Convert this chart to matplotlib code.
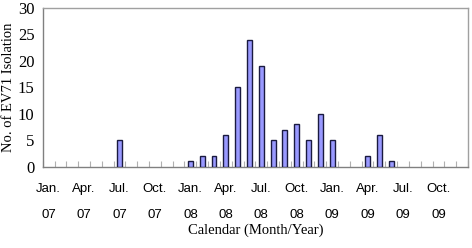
import matplotlib
matplotlib.use("Agg")
import matplotlib.pyplot as plt
import numpy as np

months = [f"{m} {y}" for y in ["07", "08", "09"] for m in
          ["Jan", "Feb", "Mar", "Apr", "May", "Jun", "Jul", "Aug", "Sep", "Oct", "Nov", "Dec"]]
counts = [0, 0, 0, 0, 0, 0, 5, 0, 0, 0, 0, 0,
          1, 2, 2, 6, 15, 24, 19, 5, 7, 8, 5, 10,
          5, 0, 0, 2, 6, 1, 0, 0, 0, 0, 0, 0]
tick_labels = ["Jan.\n07", "Apr.\n07", "Jul.\n07", "Oct.\n07",
               "Jan.\n08", "Apr.\n08", "Jul.\n08", "Oct.\n08",
               "Jan.\n09", "Apr.\n09", "Jul.\n09", "Oct.\n09"]
yticks = [0, 5, 10, 15, 20, 25, 30]

fig = plt.figure(figsize=(4.72, 2.48), dpi=100)
ax = fig.add_axes([0.0905, 0.328, 0.9010, 0.640])

x = np.arange(len(months)) + 0.5
vals = np.array(counts)
mask = vals > 0
ax.bar(x[mask], vals[mask], width=0.42, color="#9999ff", edgecolor="#1a1a40", linewidth=1.0, zorder=3)

ax.set_xlim(0, len(months))
ax.set_ylim(0, 30)
ax.set_yticks(yticks)
ax.set_yticklabels([str(v) for v in yticks], family="Liberation Serif", fontsize=12)
ax.tick_params(axis="y", length=0, pad=6)

ax.set_xticks(x[::3])
ax.set_xticklabels(tick_labels, family="Liberation Sans", fontsize=9.5, linespacing=2.5)
ax.tick_params(axis="x", which="major", length=0, pad=12)
ax.set_xticks(np.arange(0, len(months) + 1), minor=True)
ax.tick_params(axis="x", which="minor", direction="in", length=4, color="#b0b0b0", width=0.8)

for s in ["top", "right"]:
    ax.spines[s].set_color("#a0a0a0")
ax.spines["left"].set_color("#808080")
ax.spines["bottom"].set_color("#808080")
for s in ax.spines.values():
    s.set_linewidth(1.0)

ax.set_ylabel("No. of EV71 Isolation", family="Liberation Serif", fontsize=10.5, labelpad=2)
ax.set_xlabel("Calendar (Month/Year)", family="Liberation Serif", fontsize=10.5, va="center")
ax.xaxis.set_label_coords(0.5, -0.40)

fig.savefig("out.png", dpi=100)
